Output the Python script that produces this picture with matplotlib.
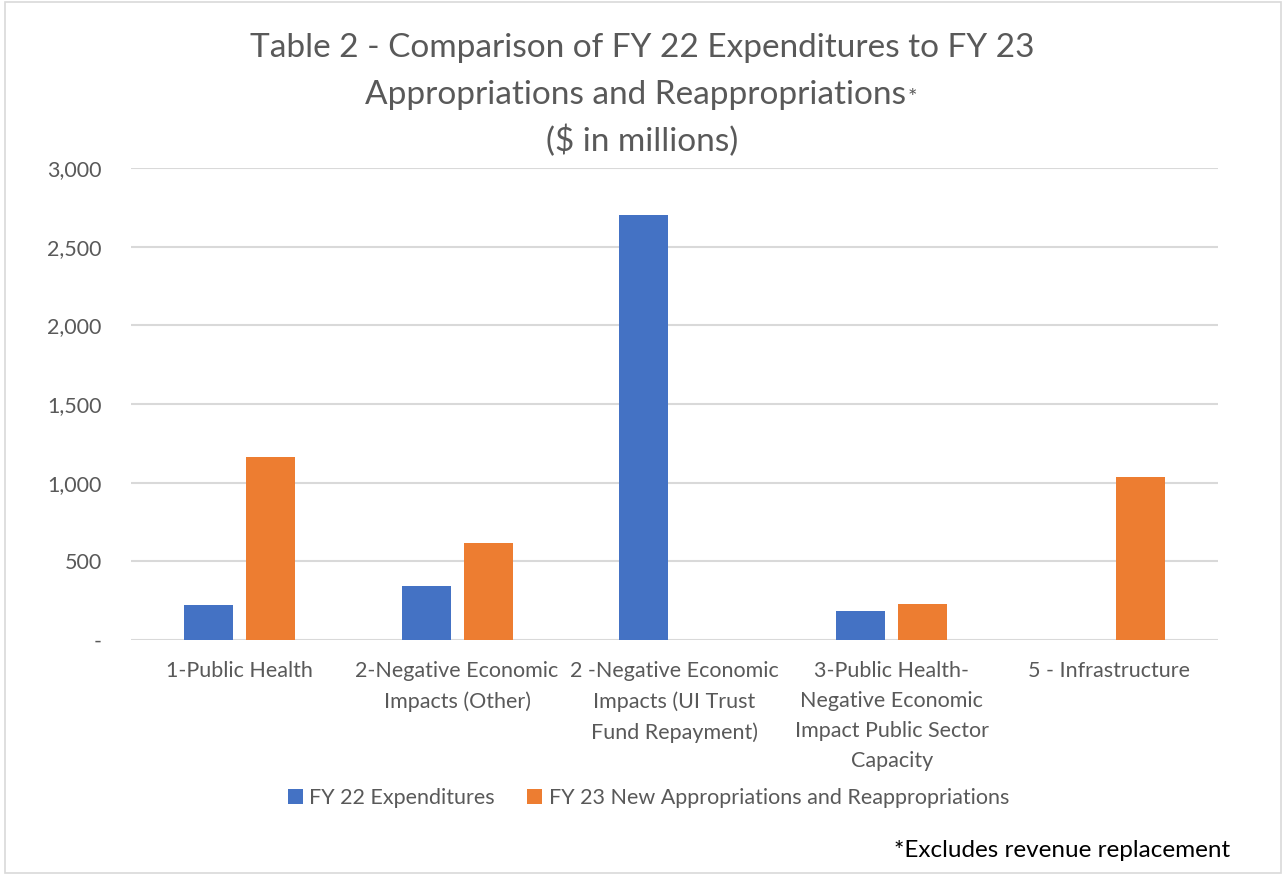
import numpy as np
import matplotlib.pyplot as plt
from matplotlib.patches import Rectangle

# Datos (millones de $)
categorias = [
    "1-Public Health",
    "2-Negative Economic\nImpacts (Other)",
    "2 -Negative Economic\nImpacts (UI Trust\nFund Repayment)",
    "3-Public Health-\nNegative Economic\nImpact Public Sector\nCapacity",
    "5 - Infrastructure",
]
gastos_fy22 = [222, 345, 2700, 184, 0]
aprop_fy23 = [1161, 614, 0, 227, 1038]
series = ["FY 22 Expenditures", "FY 23 New Appropriations and Reappropriations"]
yticks = [0, 500, 1000, 1500, 2000, 2500, 3000]
ytick_labels = ["-", "500", "1,000", "1,500", "2,000", "2,500", "3,000"]

AZUL = "#4472C4"
NARANJA = "#ED7D31"
GRIS = "#595959"

plt.rcParams["font.family"] = ["Lato", "DejaVu Sans"]

fig = plt.figure(figsize=(12.84, 8.75), dpi=100)
ax = fig.add_axes([0.102, 0.2686, 0.8466, 0.5394])

x = np.arange(len(categorias))
ancho = 0.225
sep = 0.03
ax.bar(x - ancho / 2 - sep, gastos_fy22, ancho, color=AZUL, label=series[0], zorder=3)
ax.bar(x + ancho / 2 + sep, aprop_fy23, ancho, color=NARANJA, label=series[1], zorder=3)

ax.set_xlim(-0.5, len(categorias) - 0.5)
ax.set_ylim(0, 3000)
ax.set_yticks(yticks)
ax.set_yticklabels(ytick_labels, fontsize=15.5, color=GRIS)
ax.set_xticks(x)
ax.set_xticklabels(categorias, fontsize=15.5, color=GRIS, linespacing=1.62, va="top")
ax.tick_params(axis="both", length=0)
ax.tick_params(axis="y", pad=21)
ax.tick_params(axis="x", pad=15)
ax.grid(axis="y", color="#D9D9D9", linewidth=1.5, zorder=0)
for s in ax.spines.values():
    s.set_visible(False)

# Titulo
fig.text(0.5, 0.945, "Table 2 - Comparison of FY 22 Expenditures to FY 23",
         ha="center", va="center", fontsize=24, color=GRIS)
t2 = fig.text(0.495, 0.892, "Appropriations and Reappropriations",
              ha="center", va="center", fontsize=24, color=GRIS)
fig.canvas.draw()
bb = t2.get_window_extent().transformed(fig.transFigure.inverted())
fig.text(bb.x1 + 0.001, 0.888, "*", ha="left", va="center", fontsize=16, color=GRIS)
fig.text(0.5, 0.839, "($ in millions)", ha="center", va="center", fontsize=24, color=GRIS)

# Leyenda
fig.legend(loc="center", bbox_to_anchor=(0.505, 0.088), ncol=2, frameon=False,
           fontsize=15.5, labelcolor=GRIS, handlelength=0.7, handleheight=0.7,
           handletextpad=0.3, columnspacing=1.5)

fig.text(0.958, 0.028, "*Excludes revenue replacement", ha="right", va="center",
         fontsize=17.5, color="black")

# Borde del grafico
fig.patches.append(Rectangle((0.004, 0.002), 0.994, 0.996, transform=fig.transFigure,
                             fill=False, edgecolor="#D9D9D9", linewidth=1.2))

plt.savefig("out.png", dpi=100)
plt.close()
